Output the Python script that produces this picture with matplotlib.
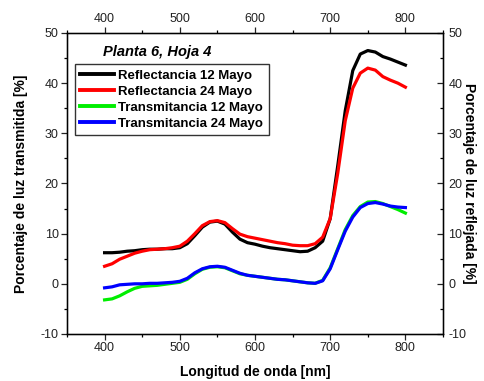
import matplotlib
matplotlib.use("Agg")
import matplotlib.pyplot as plt
from matplotlib.ticker import MultipleLocator

plt.rcParams['font.family'] = ['Liberation Sans', 'DejaVu Sans']
plt.rcParams['axes.unicode_minus'] = False

# wavelength grid (nm)
wl = [400, 410, 420, 430, 440, 450, 460, 470, 480, 490,
      500, 510, 520, 530, 540, 550, 560, 570, 580, 590,
      600, 610, 620, 630, 640, 650, 660, 670, 680, 690,
      700, 710, 720, 730, 740, 750, 760, 770, 780, 790, 800]

refl_12 = [6.2, 6.2, 6.3, 6.5, 6.6, 6.8, 6.9, 6.9, 7.0, 7.0,
           7.2, 8.0, 9.6, 11.3, 12.3, 12.5, 11.9, 10.3, 8.9, 8.2,
           7.9, 7.5, 7.2, 7.0, 6.8, 6.6, 6.4, 6.5, 7.2, 8.5,
           13.0, 23.5, 34.5, 42.5, 45.8, 46.5, 46.2, 45.3, 44.8, 44.2, 43.6]

refl_24 = [3.5, 4.0, 4.9, 5.5, 6.1, 6.5, 6.8, 6.9, 7.0, 7.2,
           7.5, 8.5, 10.0, 11.6, 12.4, 12.6, 12.2, 11.0, 9.9, 9.4,
           9.1, 8.8, 8.5, 8.2, 8.0, 7.7, 7.6, 7.6, 8.0, 9.3,
           13.0, 22.0, 32.5, 39.0, 42.0, 43.0, 42.6, 41.3, 40.6, 40.0, 39.2]

trans_12 = [-3.2, -3.0, -2.4, -1.6, -0.9, -0.5, -0.4, -0.3, -0.1, 0.1,
            0.3, 0.9, 2.0, 2.9, 3.3, 3.4, 3.2, 2.6, 2.0, 1.7,
            1.5, 1.3, 1.1, 0.9, 0.8, 0.6, 0.4, 0.2, 0.1, 0.7,
            3.2, 7.0, 10.8, 13.6, 15.4, 16.3, 16.4, 16.0, 15.4, 14.8, 14.1]

trans_24 = [-0.8, -0.6, -0.2, -0.1, 0.0, 0.0, 0.1, 0.1, 0.2, 0.3,
            0.5, 1.1, 2.2, 3.0, 3.4, 3.5, 3.3, 2.7, 2.1, 1.7,
            1.5, 1.3, 1.1, 0.9, 0.8, 0.6, 0.4, 0.2, 0.1, 0.6,
            3.0, 6.8, 10.5, 13.3, 15.2, 16.0, 16.2, 15.9, 15.5, 15.3, 15.2]

series = [
    ("Reflectancia 12 Mayo", refl_12, "#000000"),
    ("Reflectancia 24 Mayo", refl_24, "#ff0000"),
    ("Transmitancia 12 Mayo", trans_12, "#00ee00"),
    ("Transmitancia 24 Mayo", trans_24, "#0000ff"),
]

fig = plt.figure(figsize=(4.84, 3.81), dpi=100)
ax = fig.add_axes([0.1384, 0.1234, 0.7769, 0.79])

for label, vals, col in series:
    ax.plot(wl, vals, color=col, lw=2.3, label=label)

ax.set_xlim(350, 850)
ax.set_ylim(-10, 50)
ax.xaxis.set_major_locator(MultipleLocator(100))
ax.xaxis.set_minor_locator(MultipleLocator(50))
ax.yaxis.set_major_locator(MultipleLocator(10))
ax.yaxis.set_minor_locator(MultipleLocator(5))
ax.set_xticks([400, 500, 600, 700, 800])
ax.tick_params(which="major", direction="out", length=4, width=0.9,
               labelsize=9, colors="#222222", pad=2)
ax.tick_params(which="minor", direction="out", length=2.5, width=0.9)
for sp in ax.spines.values():
    sp.set_linewidth(1.0)

ax.set_xlabel("Longitud de onda [nm]", fontsize=10, fontweight="bold", labelpad=8)
ax.set_ylabel("Porcentaje de luz transmitida [%]", fontsize=10,
              fontweight="bold", labelpad=9)

# top axis
axt = ax.twiny()
axt.set_xlim(ax.get_xlim())
axt.xaxis.set_major_locator(MultipleLocator(100))
axt.xaxis.set_minor_locator(MultipleLocator(50))
axt.set_xticks([400, 500, 600, 700, 800])
axt.tick_params(which="major", direction="out", length=4, width=0.9,
                labelsize=9, colors="#222222", pad=2)
axt.tick_params(which="minor", direction="out", length=2.5, width=0.9)

# right axis
axr = ax.twinx()
axr.set_ylim(ax.get_ylim())
axr.yaxis.set_major_locator(MultipleLocator(10))
axr.yaxis.set_minor_locator(MultipleLocator(5))
axr.tick_params(which="major", direction="in", length=4, width=0.9,
                labelsize=9, colors="#222222", pad=4)
axr.tick_params(which="minor", direction="in", length=2.5, width=0.9)
axr.set_ylabel("Porcentaje de luz reflejada [%]", fontsize=10,
               fontweight="bold", rotation=270, labelpad=7)

ax.text(0.096, 0.937, "Planta 6, Hoja 4", transform=ax.transAxes,
        fontsize=10.5, fontweight="bold", fontstyle="italic",
        ha="left", va="center")

leg = ax.legend(loc="upper left", bbox_to_anchor=(0.021, 0.897),
                fontsize=9.5, frameon=True, fancybox=False,
                handlelength=2.6, handletextpad=0.3, labelspacing=0.3,
                borderpad=0.4, borderaxespad=0)
leg.get_frame().set_edgecolor("black")
leg.get_frame().set_linewidth(1.0)
for t in leg.get_texts():
    t.set_fontweight("bold")
for h in leg.get_lines():
    h.set_linewidth(2.8)

fig.savefig("out.png", dpi=100)
